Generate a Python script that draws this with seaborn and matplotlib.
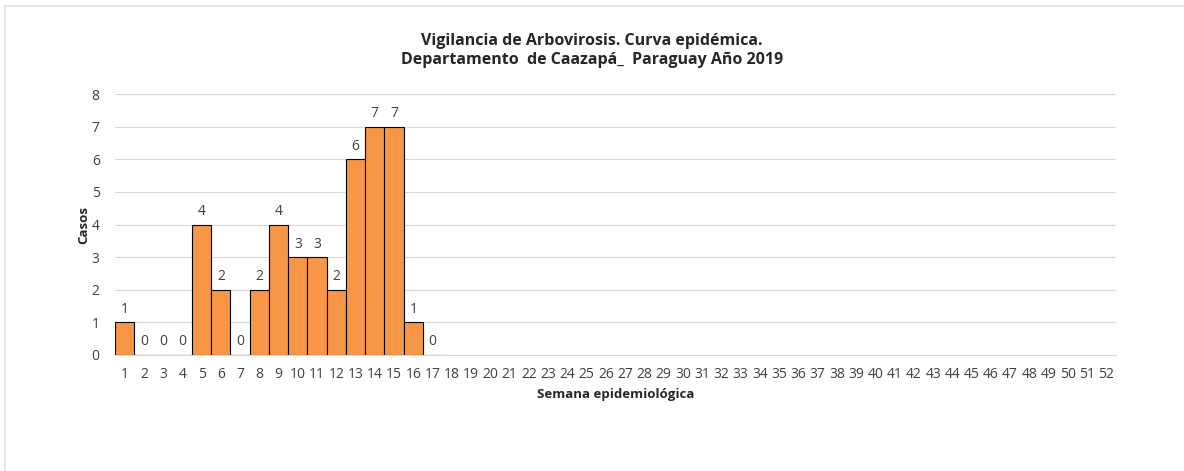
import numpy as np
import pandas as pd
import seaborn as sns
import matplotlib.pyplot as plt
from matplotlib.lines import Line2D

# Data: epidemiological weeks and reported cases (only weeks 1-17 have data)
semanas = [str(i) for i in range(1, 53)]
semanas_con_datos = [str(i) for i in range(1, 18)]
casos = [1, 0, 0, 0, 4, 2, 0, 2, 4, 3, 3, 2, 6, 7, 7, 1, 0]

df = pd.DataFrame({'semana': semanas_con_datos, 'casos': casos})

sns.set_style('white')
plt.rcParams['font.family'] = ['Open Sans', 'DejaVu Sans']

fig = plt.figure(figsize=(11.84, 4.71), dpi=100)
ax = fig.add_axes([0.0971, 0.2463, 0.8455, 0.5541])

sns.barplot(data=df, x='semana', y='casos', order=semanas, color='#F79646',
            saturation=1, width=1.0, edgecolor='black', linewidth=0.8, ax=ax)

ax.bar_label(ax.containers[0], labels=[str(v) for v in casos],
             padding=4, fontsize=10, color='#404040')

ax.set_ylim(0, 8)
ax.set_xlim(-0.5, 51.5)
ax.set_yticks(range(0, 9))
ax.yaxis.grid(True, color='#d9d9d9', linewidth=0.8)
ax.set_axisbelow(True)
for s in ['top', 'right', 'left']:
    ax.spines[s].set_visible(False)
ax.spines['bottom'].set_color('#d9d9d9')
ax.tick_params(axis='both', length=0, labelsize=10, labelcolor='#404040')
ax.tick_params(axis='x', pad=9)
ax.tick_params(axis='y', pad=11)

ax.set_xlabel('Semana epidemiológica', fontsize=9.5, fontweight='bold', labelpad=4)
ax.set_ylabel('Casos', fontsize=9.5, fontweight='bold', labelpad=1)

fig.suptitle('Vigilancia de Arbovirosis. Curva epidémica.\nDepartamento  de Caazapá_  Paraguay Año 2019',
             y=0.93, fontsize=11.5, fontweight='bold', linespacing=1.25)

# thin frame lines (top and left) as in the original
fig.add_artist(Line2D([4.5 / 1184, 1], [1 - 5.5 / 471, 1 - 5.5 / 471],
                      transform=fig.transFigure, color='#e0e0e0', linewidth=1.2))
fig.add_artist(Line2D([4.5 / 1184, 4.5 / 1184], [0, 1 - 5.5 / 471],
                      transform=fig.transFigure, color='#e0e0e0', linewidth=1.2))

fig.savefig('out.png', dpi=100)
